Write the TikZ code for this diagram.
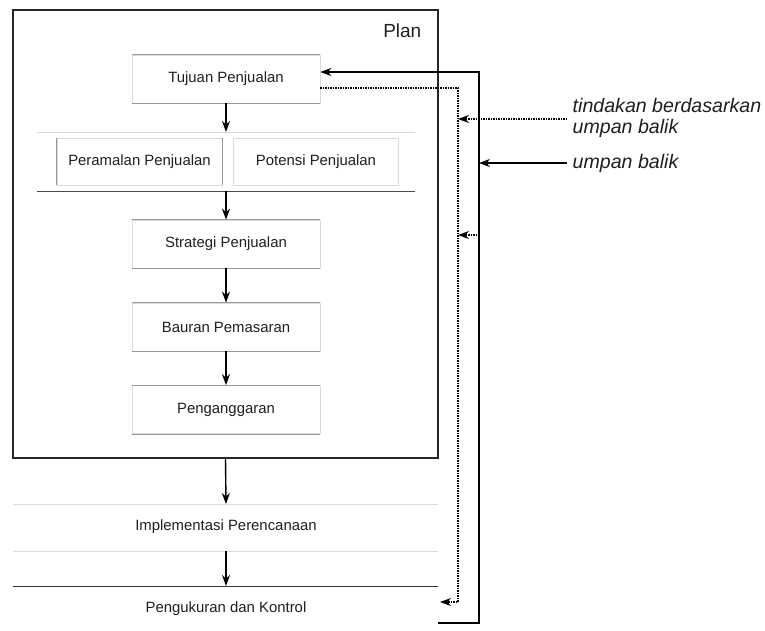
\documentclass[tikz,border=0pt]{standalone}
\usepackage{fontspec}
\setmainfont{Liberation Sans}
\usetikzlibrary{arrows.meta}
\definecolor{lightline}{gray}{0.86}
\definecolor{midline}{gray}{0.6}
\definecolor{txt}{gray}{0.12}

\begin{document}
\begin{tikzpicture}[x=1pt, y=-1pt, line width=1.4pt,
	>={Stealth[length=11pt,width=8pt]},
	box/.style={draw=lightline, line width=0.8pt, minimum width=188pt, minimum height=48pt,
		inner sep=0pt, text=txt, font=\fontsize{14.9}{18}\selectfont},
	smallbox/.style={box, minimum width=165pt, minimum height=47pt},
	steptext/.style={inner sep=0pt, text=txt, font=\fontsize{14.9}{18}\selectfont},
	fbtext/.style={inner sep=0pt, anchor=west, align=left, text=txt,
		font=\fontsize{19.6}{21}\selectfont\itshape},
	fbdot/.style={line width=1.3pt, dash pattern=on 1.2pt off 1.3pt}]
	\useasboundingbox (0,0) rectangle (765,630);

	% plan frame
	\node (plan) [draw=black!85, line width=1.5pt, minimum width=425pt, minimum height=448pt] at (225.5,234) {};
	\node (plantitle) [anchor=east, inner sep=0pt, text=txt, font=\fontsize{19}{21}\selectfont] at (422,31) {Plan};

	% planning steps
	\node (tujuan) [box] at (226,79) {Tujuan Penjualan};
	\node (peramalan) [smallbox] at (139.5,161.5) {Peramalan Penjualan};
	\node (potensi) [smallbox] at (316,161.5) {Potensi Penjualan};
	\node (strategi) [box] at (226,244) {Strategi Penjualan};
	\node (bauran) [box] at (226,327) {Bauran Pemasaran};
	\node (anggaran) [box] at (226,409.5) {Penganggaran};
	\foreach \n in {tujuan,strategi,bauran,anggaran}
		\draw [midline, line width=0.8pt] (\n.north west) -- (\n.north east) (\n.south west) -- (\n.south east);
	\draw [midline, line width=0.8pt] (peramalan.north west) -- (peramalan.south west) (peramalan.north east) -- (peramalan.south east);

	% separators
	\coordinate (sepA) at (226,132);
	\coordinate (sepB) at (226,191);
	\draw [lightline, line width=0.8pt] (37,132) -- (415,132);
	\draw [black!70, line width=1pt] (37,191) -- (415,191);

	% carrying out
	\coordinate (implTop) at (226,504);
	\coordinate (implBot) at (226,551);
	\coordinate (ukurTop) at (226,586);
	\draw [lightline, line width=0.8pt] (13,504) -- (438,504);
	\draw [lightline, line width=0.8pt] (13,551) -- (438,551);
	\draw [black!80, line width=1pt] (13,586) -- (438,586);
	\node (impl) [steptext] at (226,527) {Implementasi Perencanaan};
	\node (ukur) [steptext] at (226,609) {Pengukuran dan Kontrol};

	% flow
	\draw [->] (tujuan.south) -- (sepA);
	\draw [->] (sepB) -- (strategi.north);
	\draw [->] (strategi.south) -- (bauran.north);
	\draw [->] (bauran.south) -- (anggaran.north);
	\draw [->] (plan.south) -- (implTop);
	\draw [->] (implBot) -- (ukurTop);

	% feedback loops
	\coordinate (fbStart) at (438,623);
	\coordinate (fbLow) at (479,623);
	\coordinate (fbHigh) at (479,72);
	\draw [->] (fbStart) -- (fbLow) -- (fbHigh) -- ([yshift=7pt]tujuan.east);
	\coordinate (actTop) at (458,88);
	\coordinate (actLow) at (458,602);
	\coordinate (actEnd) at (440,602);
	\draw [fbdot,->] ([yshift=-9pt]tujuan.east) -- (actTop) -- (actLow) -- (actEnd);
	\coordinate (actMid) at (477,235);
	\draw [fbdot,->] (actMid) -- (actMid -| actTop);

	% labels
	\node (tindakan) [fbtext] at (572,118) {tindakan berdasarkan\\umpan balik};
	\node (umpan) [fbtext] at (572,163) {umpan balik};
	\draw [fbdot,->] ([xshift=-5pt,yshift=-1pt]tindakan.west) -- ([yshift=-1pt]tindakan.west -| actTop);
	\draw [->] ([xshift=-5pt]umpan.west) -- (umpan.west -| fbHigh);

\end{tikzpicture}
\end{document}
